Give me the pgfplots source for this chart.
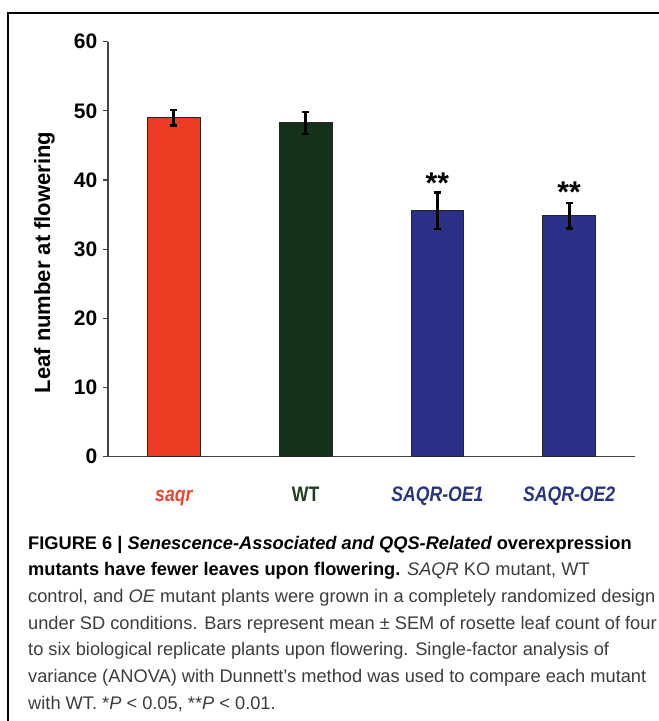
\documentclass[border=0pt]{standalone}
\usepackage{fontspec}
\setmainfont{Liberation Sans}
\newfontfamily\condfont[FakeStretch=0.84]{Liberation Sans}
\usepackage{pgfplots}
\pgfplotsset{compat=1.18}
\definecolor{barred}{HTML}{EE3B24}
\definecolor{bargreen}{HTML}{16321B}
\definecolor{barblue}{HTML}{2A3088}
\definecolor{labred}{HTML}{EE4430}
\definecolor{labgreen}{HTML}{1C3D1F}
\definecolor{labblue}{HTML}{283583}
\definecolor{axisgray}{HTML}{4A403E}
\definecolor{captext}{HTML}{3C3C3C}
\newcommand\capfont{\fontsize{18.25pt}{22pt}\selectfont}
\pgfplotsset{
  mybar/.style={draw=black!85, line width=0.8pt, fill=#1,
    error bars/y dir=both, error bars/y explicit,
    error bars/error bar style={line width=3pt, black},
    error bars/error mark options={rotate=90, line width=2.5pt, mark size=3.5pt, black}},
}
\begin{document}
\begin{tikzpicture}[x=1pt,y=1pt]
\path[use as bounding box] (0,0) rectangle (659,721);
\draw[line width=1.2pt, black] (8,0) -- (8,708) -- (659,708);
\begin{axis}[
  at={(108pt,264.3pt)}, anchor=south west,
  width=527pt, height=415pt, scale only axis,
  xmin=-0.5, xmax=3.5, ymin=0, ymax=60,
  enlargelimits=false,
  axis lines*=left,
  axis line style={line width=1.2pt, axisgray},
  xtick={0,1,2,3},
  xticklabels={{\color{labred}\itshape saqr},{\color{labgreen}WT},{\color{labblue}\itshape SAQR-OE1},{\color{labblue}\itshape SAQR-OE2}},
  x tick style={draw=none},
  xticklabel style={font=\condfont\bfseries\fontsize{21pt}{25pt}\selectfont, anchor=base, yshift=-40.8pt},
  ytick={0,10,20,30,40,50,60},
  tick align=outside, major tick length=4.5pt,
  y tick style={line width=1.2pt, axisgray},
  yticklabel style={font=\bfseries\fontsize{21pt}{25pt}\selectfont, anchor=east, inner sep=0pt, xshift=-6pt},
  /pgf/number format/assume math mode=true,
  ybar, bar width=0.4, bar shift=0pt,
  ylabel={Leaf number at flowering},
  ylabel style={font=\bfseries\fontsize{22pt}{26pt}\selectfont, at={(axis description cs:-0.110,0.468)}, anchor=base},
  clip=false,
]
\addplot[mybar=barred] coordinates {(0,49.0) +- (0,1.1)};
\addplot[mybar=bargreen] coordinates {(1,48.27) +- (0,1.6)};
\addplot[mybar=barblue] coordinates {(2,35.55) +- (0,2.65)};
\addplot[mybar=barblue] coordinates {(3,34.86) +- (0,1.85)};
\node[font=\bfseries\fontsize{30pt}{30pt}\selectfont, anchor=base] at (axis cs:2,38.1) {**};
\node[font=\bfseries\fontsize{30pt}{30pt}\selectfont, anchor=base] at (axis cs:3,36.7) {**};
\end{axis}
\begin{scope}[every node/.style={anchor=base west, inner sep=0pt, font=\capfont, text=captext}]
\node at (28,171.8) {\textcolor{black}{\bfseries FIGURE 6 | \itshape Senescence-Associated and QQS-Related \upshape overexpression}};
\node at (28,145.1) {\textcolor{black}{\bfseries mutants have fewer leaves upon flowering.} \textit{SAQR} KO mutant, WT};
\node at (28,118.4) {control, and \textit{OE} mutant plants were grown in a completely randomized design};
\node at (28,91.7) {under SD conditions. Bars represent mean ± SEM of rosette leaf count of four};
\node at (28,65) {to six biological replicate plants upon flowering. Single-factor analysis of};
\node at (28,38.3) {variance (ANOVA) with Dunnett’s method was used to compare each mutant};
\node at (28,11.6) {with WT. *\textit{P} < 0.05, **\textit{P} < 0.01.};
\end{scope}
\end{tikzpicture}
\end{document}
